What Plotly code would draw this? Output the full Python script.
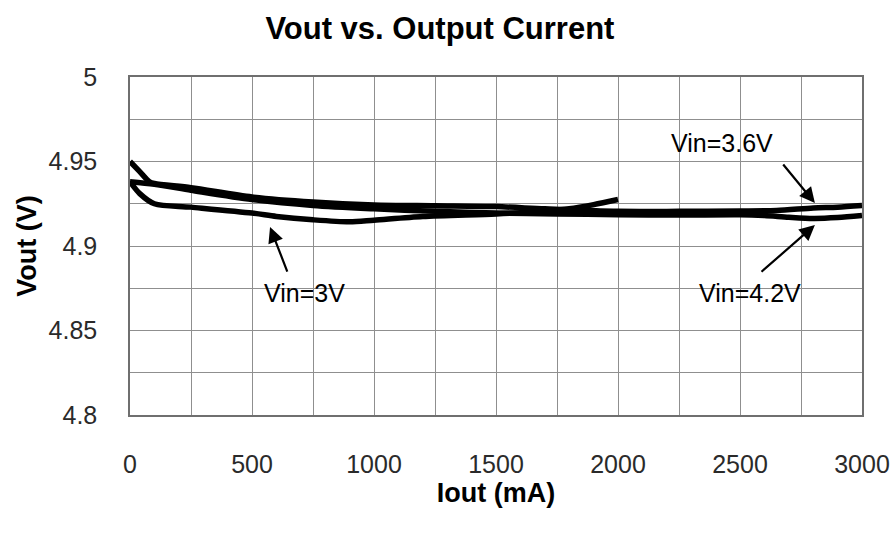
import plotly.graph_objects as go

# Vin = 3V (ends at 2000 mA)
x_3v = [0, 40, 100, 250, 500, 600, 750, 900, 1000, 1200, 1500, 1700, 1800, 1900, 2000]
y_3v = [4.938, 4.931, 4.925, 4.923, 4.9195, 4.9175, 4.9155, 4.9143, 4.9153, 4.9175, 4.919, 4.9205, 4.922, 4.9245, 4.9275]

# Vin = 3.6V
x_36v = [0, 40, 80, 100, 250, 500, 750, 1000, 1250, 1500, 1700, 2000, 2250, 2500, 2650, 2800, 2900, 3000]
y_36v = [4.950, 4.944, 4.938, 4.937, 4.9345, 4.929, 4.926, 4.9243, 4.9238, 4.9233, 4.922, 4.9205, 4.9205, 4.9207, 4.921, 4.9225, 4.923, 4.924]

# Vin = 4.2V
x_42v = [0, 100, 250, 500, 750, 1000, 1250, 1500, 1750, 2000, 2250, 2500, 2600, 2700, 2800, 2900, 3000]
y_42v = [4.938, 4.9365, 4.933, 4.9275, 4.924, 4.922, 4.9205, 4.9195, 4.919, 4.9185, 4.9183, 4.9185, 4.918, 4.917, 4.9163, 4.9168, 4.918]

x_ticks = [0, 500, 1000, 1500, 2000, 2500, 3000]
y_ticks = [4.8, 4.85, 4.9, 4.95, 5.0]
y_tick_text = ["4.8", "4.85", "4.9", "4.95", "5"]

# label text, label position, arrow tail, arrow tip
labels = ["Vin=3.6V", "Vin=4.2V", "Vin=3V"]
label_x = [2426, 2541, 717]
label_y = [4.961, 4.8722, 4.872]
tail_x = [2672, 2582, 647]
tail_y = [4.9491, 4.884, 4.884]
tip_x = [2807, 2807, 574]
tip_y = [4.9254, 4.9124, 4.9112]

FONT = "Liberation Sans, Arial, sans-serif"

fig = go.Figure()
for xs, ys, name in [(x_3v, y_3v, "Vin=3V"), (x_36v, y_36v, "Vin=3.6V"), (x_42v, y_42v, "Vin=4.2V")]:
    fig.add_trace(go.Scatter(x=xs, y=ys, mode="lines", name=name,
                             line=dict(color="black", width=5.5, shape="spline", smoothing=0.8)))

annotations = []
for t, lx, ly in zip(labels, label_x, label_y):
    annotations.append(dict(x=lx, y=ly, xref="x", yref="y", text=t, showarrow=False,
                            font=dict(family=FONT, size=25, color="black")))
for tx, ty, hx, hy in zip(tail_x, tail_y, tip_x, tip_y):
    annotations.append(dict(x=hx, y=hy, xref="x", yref="y", ax=tx, ay=ty, axref="x", ayref="y",
                            text="", showarrow=True, arrowhead=2, arrowsize=1.4,
                            arrowwidth=2.2, arrowcolor="black"))

fig.update_layout(
    width=896, height=536,
    margin=dict(l=130, r=34, t=77, b=121, autoexpand=False),
    paper_bgcolor="white", plot_bgcolor="white",
    showlegend=False,
    title=dict(text="<b>Vout vs. Output Current</b>", x=0.491, xanchor="center", y=0.948, yanchor="middle",
               automargin=False, font=dict(family=FONT, size=31, color="black")),
    annotations=annotations,
)
fig.update_xaxes(
    range=[0, 3000], tickvals=x_ticks, ticks="", ticklabelstandoff=26, automargin=False,
    tickfont=dict(family=FONT, size=25, color="#2a2a2a"),
    showgrid=True, gridcolor="#8f8f8f", gridwidth=1,
    minor=dict(dtick=250, tick0=0, showgrid=True, gridcolor="#8f8f8f", gridwidth=1),
    showline=True, linecolor="#6f6f6f", linewidth=1.5, mirror=True, zeroline=False,
    title=dict(text="<b>Iout (mA)</b>", standoff=6, font=dict(family=FONT, size=27, color="black")),
)
fig.update_yaxes(
    range=[4.8, 5.0], tickvals=y_ticks, ticktext=y_tick_text, ticks="", ticklabelstandoff=26, automargin=False,
    tickfont=dict(family=FONT, size=25, color="#2a2a2a"),
    showgrid=True, gridcolor="#8f8f8f", gridwidth=1,
    minor=dict(dtick=0.025, tick0=4.8, showgrid=True, gridcolor="#8f8f8f", gridwidth=1),
    showline=True, linecolor="#6f6f6f", linewidth=1.5, mirror=True, zeroline=False,
    title=dict(text="<b>Vout (V)</b>", standoff=4, font=dict(family=FONT, size=27, color="black")),
)

fig.write_html("out.html", config={"displayModeBar": False},
               post_script="document.body.style.margin='0';document.body.style.overflow='hidden';")
